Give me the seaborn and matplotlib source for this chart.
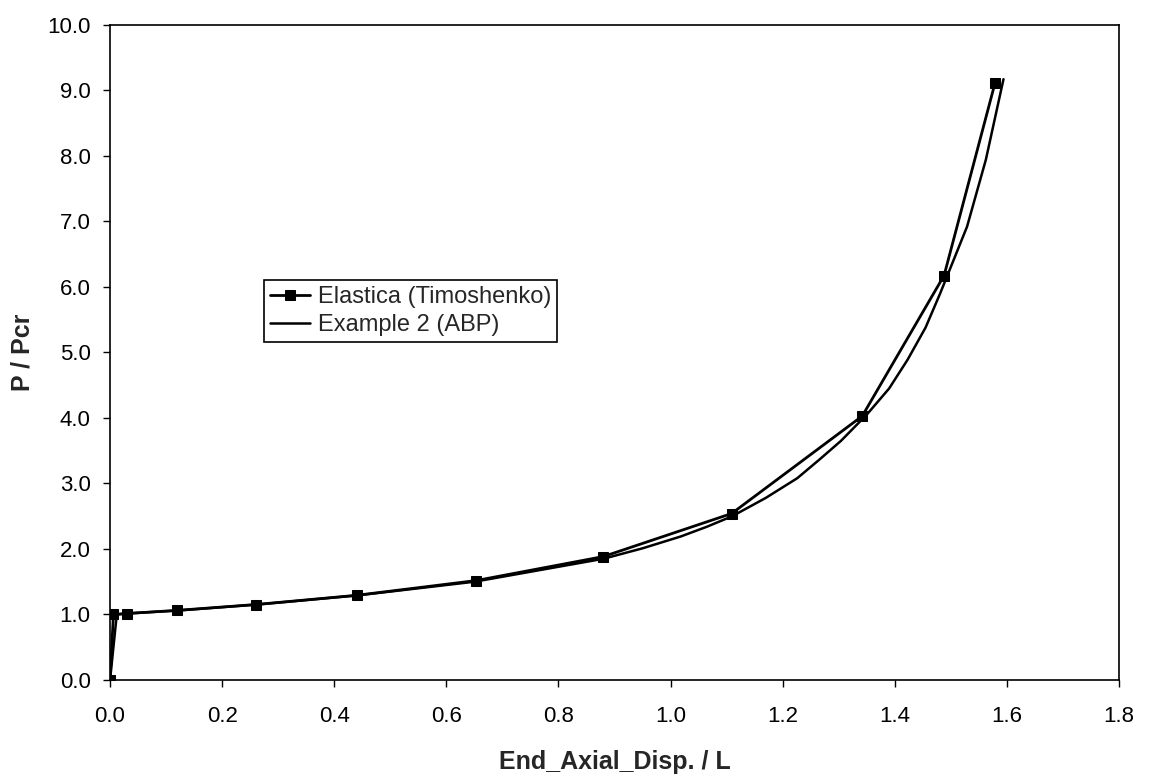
import matplotlib
matplotlib.use("Agg")
import matplotlib.pyplot as plt
import seaborn as sns
import pandas as pd

# Elastica (Timoshenko) - marked series
elastica_x = [0.0, 0.006, 0.03, 0.12, 0.26, 0.44, 0.653, 0.88, 1.109, 1.342, 1.488, 1.579]
elastica_y = [0.0, 1.0, 1.015, 1.063, 1.152, 1.293, 1.518, 1.884, 2.541, 4.029, 6.174, 9.116]

# Example 2 (ABP) - smooth line
abp_x = [0.0, 0.012, 0.03, 0.12, 0.26, 0.44, 0.65, 0.88, 0.95, 1.018, 1.065, 1.11,
         1.17, 1.226, 1.265, 1.304, 1.35, 1.39, 1.423, 1.455, 1.481, 1.529, 1.5625, 1.594]
abp_y = [0.0, 1.0, 1.015, 1.06, 1.15, 1.29, 1.50, 1.85, 2.01, 2.19, 2.34, 2.50,
         2.78, 3.08, 3.36, 3.65, 4.05, 4.45, 4.89, 5.38, 5.90, 6.92, 7.94, 9.17]

x_ticks = [0.0, 0.2, 0.4, 0.6, 0.8, 1.0, 1.2, 1.4, 1.6, 1.8]
y_ticks = [0.0, 1.0, 2.0, 3.0, 4.0, 5.0, 6.0, 7.0, 8.0, 9.0, 10.0]

sns.set_theme(style="ticks")
plt.rcParams['font.family'] = ['Liberation Sans', 'DejaVu Sans']

fig = plt.figure(figsize=(11.5, 7.76), dpi=100)
ax = fig.add_axes([0.0957, 0.1237, 0.8773, 0.8443])

df_e = pd.DataFrame({"x": elastica_x, "y": elastica_y})
df_a = pd.DataFrame({"x": abp_x, "y": abp_y})

sns.lineplot(data=df_e, x="x", y="y", ax=ax, color="black", lw=2.0, marker="s",
             markersize=7, markeredgecolor="black", markerfacecolor="black",
             estimator=None, sort=False, label="Elastica (Timoshenko)")
sns.lineplot(data=df_a, x="x", y="y", ax=ax, color="black", lw=1.8,
             estimator=None, sort=False, label="Example 2 (ABP)")

ax.set_xlim(0, 1.8)
ax.set_ylim(0, 10)
ax.set_xticks(x_ticks)
ax.set_xticklabels([f"{v:.1f}" for v in x_ticks])
ax.set_yticks(y_ticks)
ax.set_yticklabels([f"{v:.1f}" for v in y_ticks])
ax.tick_params(axis="x", direction="out", length=5, width=1, pad=14, labelsize=16, colors="black")
ax.tick_params(axis="y", direction="out", length=5, width=1, pad=9, labelsize=16, colors="black")

for s in ax.spines.values():
    s.set_visible(True)
    s.set_color("black")
    s.set_linewidth(1.2)

ax.set_xlabel("End_Axial_Disp. / L", fontsize=18, fontweight="bold", labelpad=16)
ax.set_ylabel("P / Pcr", fontsize=18, fontweight="bold", labelpad=9)
ax.grid(False)

leg = ax.legend(loc="upper left", bbox_to_anchor=(0.153, 0.61), fontsize=17,
                frameon=True, fancybox=False, framealpha=1, edgecolor="black",
                handlelength=1.7, handletextpad=0.3, borderpad=0.25,
                labelspacing=0.25, borderaxespad=0)
leg.get_frame().set_linewidth(1.2)

fig.savefig("out.png", dpi=100, facecolor="white")
